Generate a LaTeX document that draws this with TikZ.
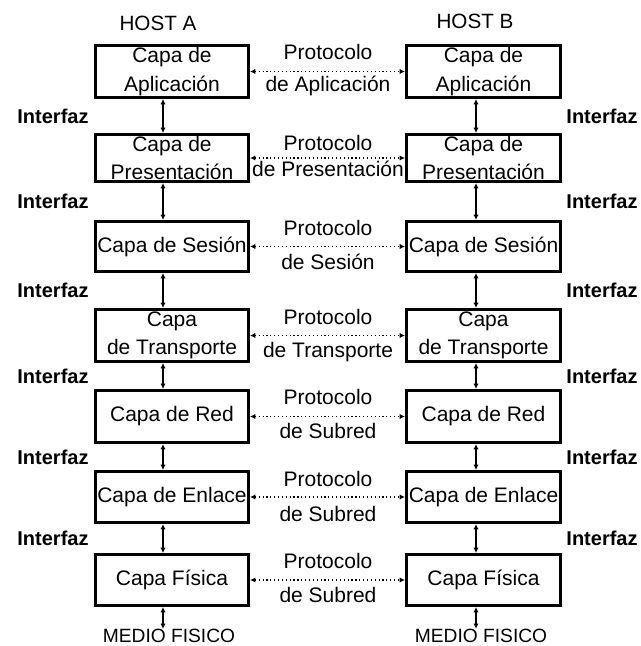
\documentclass[tikz,border=0pt]{standalone}
\usepackage{fontspec}
\setmainfont{Liberation Sans}
\usetikzlibrary{arrows.meta}
\begin{document}
\begin{tikzpicture}[x=0.75pt,y=-0.75pt,
  layer/.style={draw,line width=2pt,minimum width=156\pgflinewidth/2,inner sep=0pt,align=center,
    font=\fontsize{15.75}{21.5}\selectfont},
  ptext/.style={font=\fontsize{15.75}{21.5}\selectfont,inner sep=0pt},
  iface/.style={font=\bfseries\fontsize{15}{18}\selectfont,inner sep=0pt},
  host/.style={font=\fontsize{15.5}{18}\selectfont,inner sep=0pt},
  medio/.style={font=\fontsize{14.4}{18}\selectfont,inner sep=0pt},
  vlink/.style={line width=1.5pt,{Latex[length=4pt,width=4pt]}-{Latex[length=4pt,width=4pt]}},
  plink/.style={line width=0.9pt,dotted,{Latex[length=4pt,width=4pt]}-{Latex[length=4pt,width=4pt]}}]
\useasboundingbox (0,0) rectangle (640,646);

% headers
\node[host] (HA) at (158,23) {HOST A};
\node[host] (HB) at (475,21) {HOST B};

% layer boxes: name, centre y, height, text
\foreach \n/\cy/\h/\t in {1/71.5/55/{Capa de\\Aplicación},
                          2/158/50/{Capa de\\Presentación},
                          3/246.5/53/{Capa de Sesión},
                          4/335.5/55/{Capa\\de Transporte},
                          5/416.5/55/{Capa de Red},
                          6/497/54/{Capa de Enlace},
                          7/580/54/{Capa Física}}{
  \node[layer,minimum width=156*0.75pt-2pt,minimum height=\h*0.75pt-2pt] (A\n) at (172,\cy) {\t};
  \node[layer,minimum width=157*0.75pt-2pt,minimum height=\h*0.75pt-2pt] (B\n) at (483.5,\cy) {\t};
  \draw[plink] (A\n.east) -- (B\n.west);
}

% peer protocol labels
\foreach \n/\ya/\yb/\t in {1/52/86/{de Aplicación},
                           2/143/169/{de Presentación},
                           3/228/262/{de Sesión},
                           4/317/352/{de Transporte},
                           5/397/431/{de Subred},
                           6/479/514/{de Subred},
                           7/561/595/{de Subred}}{
  \node[ptext] (P\n) at (328,\ya) {Protocolo};
  \node[ptext] (Q\n) at (328,\yb) {\t};
}

% interfaces between adjacent layers
\foreach \n/\m/\y in {1/2/116,2/3/201,3/4/290,4/5/376,5/6/457,6/7/538}{
  \draw[vlink] ([xshift=-9*0.75pt]A\n.south) -- ([xshift=-9*0.75pt]A\m.north);
  \draw[vlink] ([xshift=-7.5*0.75pt]B\n.south) -- ([xshift=-7.5*0.75pt]B\m.north);
  \node[iface] (IA\n) at (53,\y) {Interfaz};
  \node[iface] (IB\n) at (602,\y) {Interfaz};
}

% physical medium
\node[medio] (MA) at (169,636) {MEDIO FISICO};
\node[medio] (MB) at (481,636) {MEDIO FISICO};
\draw[vlink] ([xshift=-9*0.75pt]A7.south) -- ([xshift=-9*0.75pt]A7.south |- MA.north);
\draw[vlink] ([xshift=-7.5*0.75pt]B7.south) -- ([xshift=-7.5*0.75pt]B7.south |- MB.north);
\end{tikzpicture}
\end{document}
